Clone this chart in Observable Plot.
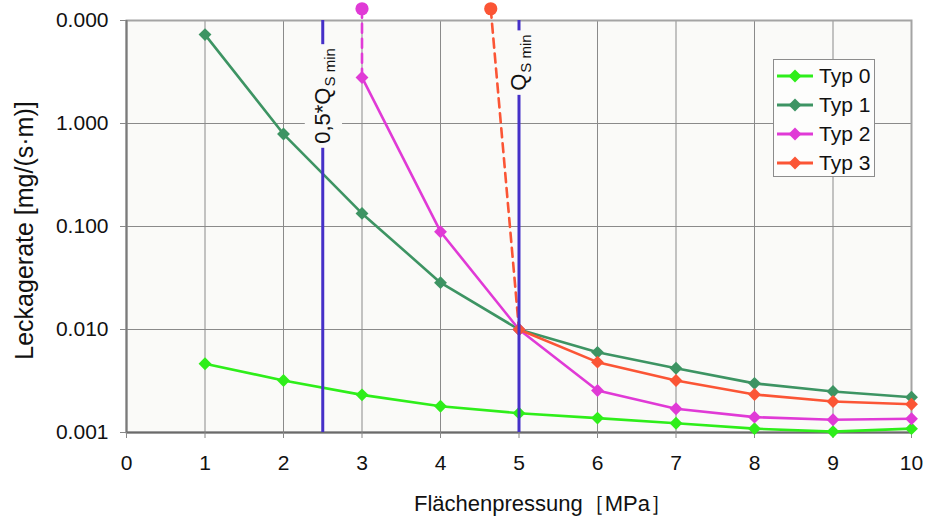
<!DOCTYPE html>
<html>
<head>
<meta charset="utf-8">
<script src="https://cdn.jsdelivr.net/npm/d3@7"></script>
<script src="https://cdn.jsdelivr.net/npm/@observablehq/plot@0.6"></script>
<style>
  body { margin: 0; background: #fff; font-family: "Liberation Sans", Arial, sans-serif; }
  #chart { position: relative; width: 925px; height: 516px; }
  .legend { position: absolute; left: 773px; top: 59px; width: 102px; height: 118px;
            border: 1px solid #8c8c8c; background: #fdfdfc; box-sizing: border-box; }
  .legend .row { position: absolute; left: 3px; height: 29px; display: flex; align-items: center;
                 font-size: 21px; color: #111; white-space: nowrap; }
  .legend .row svg { margin-right: 6px; }
</style>
</head>
<body>
<div id="chart"></div>
<script>
// Surface pressure [MPa] at each measurement
const pressure = [1, 2, 3, 4, 5, 6, 7, 8, 9, 10];

// Leakage rate [mg/(s·m)] per gasket type (null = not measured)
const typ0 = [0.00465, 0.0032, 0.00232, 0.0018, 0.00154, 0.00138, 0.00123, 0.00109, 0.00102, 0.00109];
const typ1 = [7.3, 0.79, 0.134, 0.0285, 0.0100, 0.0060, 0.0042, 0.0030, 0.0025, 0.0022];
const typ2 = [null, null, 2.8, 0.089, 0.0100, 0.00256, 0.0017, 0.00141, 0.00133, 0.00136];
const typ3 = [null, null, null, null, 0.0100, 0.00482, 0.0032, 0.00234, 0.0020, 0.00188];

const seriesNames = ["Typ 0", "Typ 1", "Typ 2", "Typ 3"];
const seriesValues = [typ0, typ1, typ2, typ3];
const seriesColors = ["#2eee1a", "#3d9463", "#e03ad6", "#fb5535"];

// Off-scale starting values of Typ 2 and Typ 3 (above the axis maximum)
const offScaleName = ["Typ 2", "Typ 3"];
const offScaleX = [3, 4.64];
const offScaleY = [13, 13];
const offScaleJoinX = [3, 5];
const offScaleJoinY = [2.8, 0.0100];

// Minimum surface pressure limits
const limitX = [2.5, 5];
const limitMain = ["0,5*Q", "Q"];
const limitSub = ["S min", "S min"];
const limitLabelY = [1.85, 3.9];

// Axis ticks
const xTickValues = [0, 1, 2, 3, 4, 5, 6, 7, 8, 9, 10];
const yTickValues = [0.001, 0.01, 0.1, 1, 10];
const yTickLabels = ["0.001", "0.010", "0.100", "1.000", "0.000"];

const xTitle = "Flächenpressung［MPa］";
const yTitle = "Leckagerate [mg/(s·m)]";

// Tidy rows for the series
const rows = [];
seriesNames.forEach((name, s) => {
  pressure.forEach((p, i) => {
    const v = seriesValues[s][i];
    if (v != null) rows.push({series: name, x: p, y: v});
  });
});
const dashRows = [];
offScaleName.forEach((name, i) => {
  dashRows.push({series: name, x: offScaleX[i], y: offScaleY[i]});
  dashRows.push({series: name, x: offScaleJoinX[i], y: offScaleJoinY[i]});
});
const startRows = offScaleName.map((name, i) => ({series: name, x: offScaleX[i], y: offScaleY[i]}));
const limits = limitX.map((x, i) => ({x, y: limitLabelY[i], label: limitMain[i] + "|" + limitSub[i]}));

const color = {domain: seriesNames, range: seriesColors};
const limitColor = "#4530c8";
const plotBackground = "#fafaf8";

const plot = Plot.plot({
  width: 925,
  height: 516,
  marginLeft: 126,
  marginRight: 14,
  marginTop: 20,
  marginBottom: 84,
  style: {fontFamily: "'Liberation Sans', Arial, sans-serif", fontSize: "21px", background: "white", overflow: "visible", color: "#111"},
  x: {domain: [0, 10]},
  y: {type: "log", domain: [0.001, 10]},
  color,
  marks: [
    Plot.frame({fill: plotBackground, stroke: null}),
    Plot.gridX({ticks: xTickValues.slice(1, -1), stroke: "#8a8a8a", strokeOpacity: 1}),
    Plot.gridY({ticks: yTickValues.slice(1, -1), stroke: "#8a8a8a", strokeOpacity: 1}),
    Plot.frame({stroke: "#a4a4a4", strokeWidth: 2}),
    Plot.ruleX([0], {stroke: "#7a7a7a", strokeWidth: 2}),
    Plot.ruleY([0.001], {stroke: "#6a6a6a", strokeWidth: 2}),
    Plot.axisX({ticks: xTickValues, tickSize: 6, tickPadding: 17, stroke: "#888", fill: "#111", fontSize: 21, label: null}),
    Plot.axisY({ticks: yTickValues, tickFormat: (d) => yTickLabels[yTickValues.indexOf(d)], tickSize: 6, tickPadding: 12, stroke: "#888", fill: "#111", fontSize: 21, label: null}),
    // dashed lead-ins from the off-scale starting values
    Plot.line(dashRows, {x: "x", y: "y", z: "series", stroke: "series", strokeWidth: 2.6, strokeDasharray: "9,6"}),
    Plot.dot(startRows, {x: "x", y: "y", fill: "series", r: 6.6}),
    // measured series
    Plot.line(rows, {x: "x", y: "y", z: "series", stroke: "series", strokeWidth: 2.6}),
    Plot.dot(rows, {x: "x", y: "y", fill: "series", symbol: "diamond2", r: 5.8}),
    // pressure limits
    Plot.ruleX(limitX, {stroke: limitColor, strokeWidth: 3}),
    Plot.text(limits, {x: "x", y: "y", text: "label", rotate: -90, fontSize: 22, fill: "#111"}),
    // axis titles
    Plot.text([yTitle], {frameAnchor: "left", textAnchor: "middle", dx: -102, dy: 4, rotate: -90, fontSize: 25, fill: "#111"}),
    Plot.text([xTitle], {frameAnchor: "bottom", dx: 24, dy: 78, lineAnchor: "bottom", fontSize: 22, fill: "#111"})
  ]
});

const chart = document.getElementById("chart");
chart.appendChild(plot);

// limit labels: subscript and a plain box behind each label
d3.select(plot).selectAll("text").each(function() {
  const t = this.textContent;
  if (!t.includes("|")) return;
  const [main, sub] = t.split("|");
  const sel = d3.select(this);
  sel.text(null);
  sel.append("tspan").text(main);
  sel.append("tspan").attr("font-size", 15).attr("dy", "0.35em").attr("dx", "1").text(sub);
  const box = this.getBBox();
  d3.select(this.parentNode).insert("rect", () => this)
    .attr("transform", this.getAttribute("transform"))
    .attr("x", box.x - 4).attr("y", box.y - 5)
    .attr("width", box.width + 8).attr("height", box.height + 9)
    .attr("fill", plotBackground).attr("stroke", "none");
});

// legend
const legend = document.createElement("div");
legend.className = "legend";
seriesNames.forEach((name, i) => {
  const row = document.createElement("div");
  row.className = "row";
  row.style.top = (1 + i * 29.3) + "px";
  const c = seriesColors[i];
  row.innerHTML = `<svg width="36" height="16"><line x1="0" y1="8" x2="36" y2="8" stroke="${c}" stroke-width="3"/>` +
    `<polygon points="18,1.5 24.5,8 18,14.5 11.5,8" fill="${c}"/></svg><span>${name}</span>`;
  legend.appendChild(row);
});
chart.appendChild(legend);
</script>
</body>
</html>
